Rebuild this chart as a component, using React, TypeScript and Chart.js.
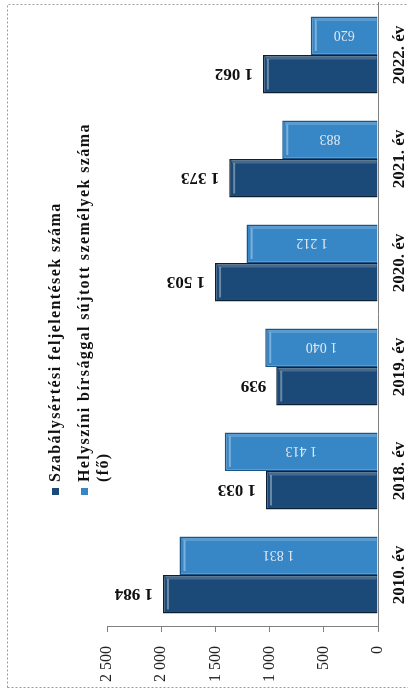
import React, { useEffect, useRef } from "react";
import { Chart, registerables } from "chart.js";

Chart.register(...registerables);

const categories = ["2010. év", "2018. év", "2019. év", "2020. év", "2021. év", "2022. év"];
const feljelentesek = [1984, 1033, 939, 1503, 1373, 1062];
const birsag = [1831, 1413, 1040, 1212, 883, 620];
const seriesNames = [
  "Szabálysértési feljelentések száma",
  "Helyszíni bírsággal sújtott személyek száma (fő)",
];
const valueMin = 0;
const valueMax = 2500;
const valueStep = 500;

const DARK = "#1b4a78";
const DARK_EDGE = "#0b2035";
const LIGHT = "#3786c6";
const LIGHT_EDGE = "#1b5485";
const FONT = "'Liberation Serif', 'Times New Roman', serif";

function fmt(v: number): string {
  if (v >= 1000) {
    return `${Math.floor(v / 1000)} ${String(v % 1000).padStart(3, "0")}`;
  }
  return String(v);
}

const framePlugin = {
  id: "frame",
  beforeDraw(chart: any) {
    const ctx = chart.ctx;
    ctx.save();
    ctx.fillStyle = "#ffffff";
    ctx.fillRect(0, 0, chart.width, chart.height);
    ctx.setLineDash([2, 2]);
    ctx.strokeStyle = "#9a9a9a";
    ctx.lineWidth = 1;
    ctx.strokeRect(4.5, 7.5, 683, 410);
    ctx.restore();
  },
};

const bevelPlugin = {
  id: "bevel",
  afterDatasetsDraw(chart: any) {
    const ctx = chart.ctx;
    chart.data.datasets.forEach((_ds: any, i: number) => {
      const meta = chart.getDatasetMeta(i);
      meta.data.forEach((bar: any) => {
        const { x, y, base, width } = bar.getProps(["x", "y", "base", "width"], true);
        const left = x - width / 2;
        const right = x + width / 2;
        ctx.save();
        // light strip near the bar tip
        ctx.strokeStyle = "rgba(255,255,255,0.35)";
        ctx.lineWidth = 2;
        ctx.beginPath();
        ctx.moveTo(left + 4, y + 5);
        ctx.lineTo(right - 4, y + 5);
        ctx.stroke();
        // light edge on right side
        ctx.strokeStyle = "rgba(255,255,255,0.18)";
        ctx.lineWidth = 3;
        ctx.beginPath();
        ctx.moveTo(right - 3, y + 3);
        ctx.lineTo(right - 3, base - 1);
        ctx.stroke();
        ctx.restore();
      });
    });
  },
};

const labelPlugin = {
  id: "barLabels",
  afterDatasetsDraw(chart: any) {
    const ctx = chart.ctx;
    chart.data.datasets.forEach((ds: any, i: number) => {
      const meta = chart.getDatasetMeta(i);
      meta.data.forEach((bar: any, j: number) => {
        const v = ds.data[j];
        const { x, y, base } = bar.getProps(["x", "y", "base"], true);
        ctx.save();
        ctx.textBaseline = "middle";
        if (i === 0) {
          ctx.font = `bold 17px ${FONT}`;
          ctx.fillStyle = "#111111";
          ctx.translate(x, y - 10);
          ctx.rotate(-Math.PI / 2);
          ctx.textAlign = "left";
        } else {
          ctx.font = `14px ${FONT}`;
          ctx.fillStyle = "#dce6f0";
          ctx.translate(x, (y + base) / 2);
          ctx.rotate(-Math.PI / 2);
          ctx.textAlign = "center";
        }
        ctx.fillText(fmt(v), 0, 1);
        ctx.restore();
      });
    });
  },
};

const legendPlugin = {
  id: "customLegend",
  afterDraw(chart: any) {
    const ctx = chart.ctx;
    const startX = 197;
    const textX = 210;
    const maxW = 370;
    const lineH = 19;
    let y = 56;
    ctx.save();
    ctx.font = `bold 16px ${FONT}`;
    (ctx as any).letterSpacing = "1.4px";
    ctx.textBaseline = "middle";
    ctx.textAlign = "left";
    chart.data.datasets.forEach((ds: any) => {
      const words = String(ds.label).split(" ");
      const lines: string[] = [];
      let cur = "";
      words.forEach((w) => {
        const test = cur ? cur + " " + w : w;
        if (ctx.measureText(test).width > maxW && cur) {
          lines.push(cur);
          cur = w;
        } else {
          cur = test;
        }
      });
      if (cur) lines.push(cur);
      ctx.fillStyle = ds.backgroundColor;
      ctx.fillRect(startX, y - 4, 7, 7);
      ctx.fillStyle = "#111111";
      lines.forEach((ln, k) => {
        ctx.fillText(ln, textX, y + k * lineH);
      });
      y += (lines.length - 1) * lineH + 29;
    });
    ctx.restore();
  },
};

export default function App() {
  const ref = useRef<HTMLCanvasElement | null>(null);

  useEffect(() => {
    if (!ref.current) return;
    const chart = new Chart(ref.current, {
      type: "bar",
      data: {
        labels: categories,
        datasets: [
          {
            label: seriesNames[0],
            data: feljelentesek,
            backgroundColor: DARK,
            borderColor: DARK_EDGE,
            borderWidth: 1.5,
            categoryPercentage: 0.74,
            barPercentage: 1.0,
          },
          {
            label: seriesNames[1],
            data: birsag,
            backgroundColor: LIGHT,
            borderColor: LIGHT_EDGE,
            borderWidth: 1.5,
            categoryPercentage: 0.74,
            barPercentage: 1.0,
          },
        ],
      },
      options: {
        responsive: false,
        devicePixelRatio: 1,
        animation: false,
        layout: { padding: { top: 107, right: 3, left: 0, bottom: 0 } },
        plugins: {
          legend: { display: false },
          tooltip: { enabled: false },
        },
        scales: {
          x: {
            offset: true,
            grid: { display: false, drawTicks: false },
            border: { display: true, color: "#808080", width: 1 },
            ticks: {
              color: "#111111",
              font: { family: FONT, size: 17, weight: "bold" },
              padding: 11,
              maxRotation: 0,
              minRotation: 0,
            },
            afterFit(scale: any) {
              scale.height = 30;
            },
          },
          y: {
            min: valueMin,
            max: valueMax,
            grid: {
              drawOnChartArea: false,
              drawTicks: true,
              tickLength: 5,
              color: "#808080",
            },
            border: { display: true, color: "#808080", width: 1 },
            ticks: {
              stepSize: valueStep,
              color: "#222222",
              font: { family: FONT, size: 16 },
              padding: 14,
              callback: (v: any) => fmt(Number(v)),
            },
            afterFit(scale: any) {
              scale.width = 65;
            },
          },
        },
      },
      plugins: [framePlugin, bevelPlugin, labelPlugin, legendPlugin],
    });
    return () => chart.destroy();
  }, []);

  return (
    <div
      style={{
        position: "fixed",
        left: 0,
        top: 0,
        width: 692,
        height: 408,
        transformOrigin: "0 0",
        transform: "translateY(692px) rotate(-90deg)",
        background: "#ffffff",
        overflow: "hidden",
      }}
    >
      <canvas ref={ref} width={692} height={408} style={{ display: "block", width: 692, height: 408 }} />
    </div>
  );
}
